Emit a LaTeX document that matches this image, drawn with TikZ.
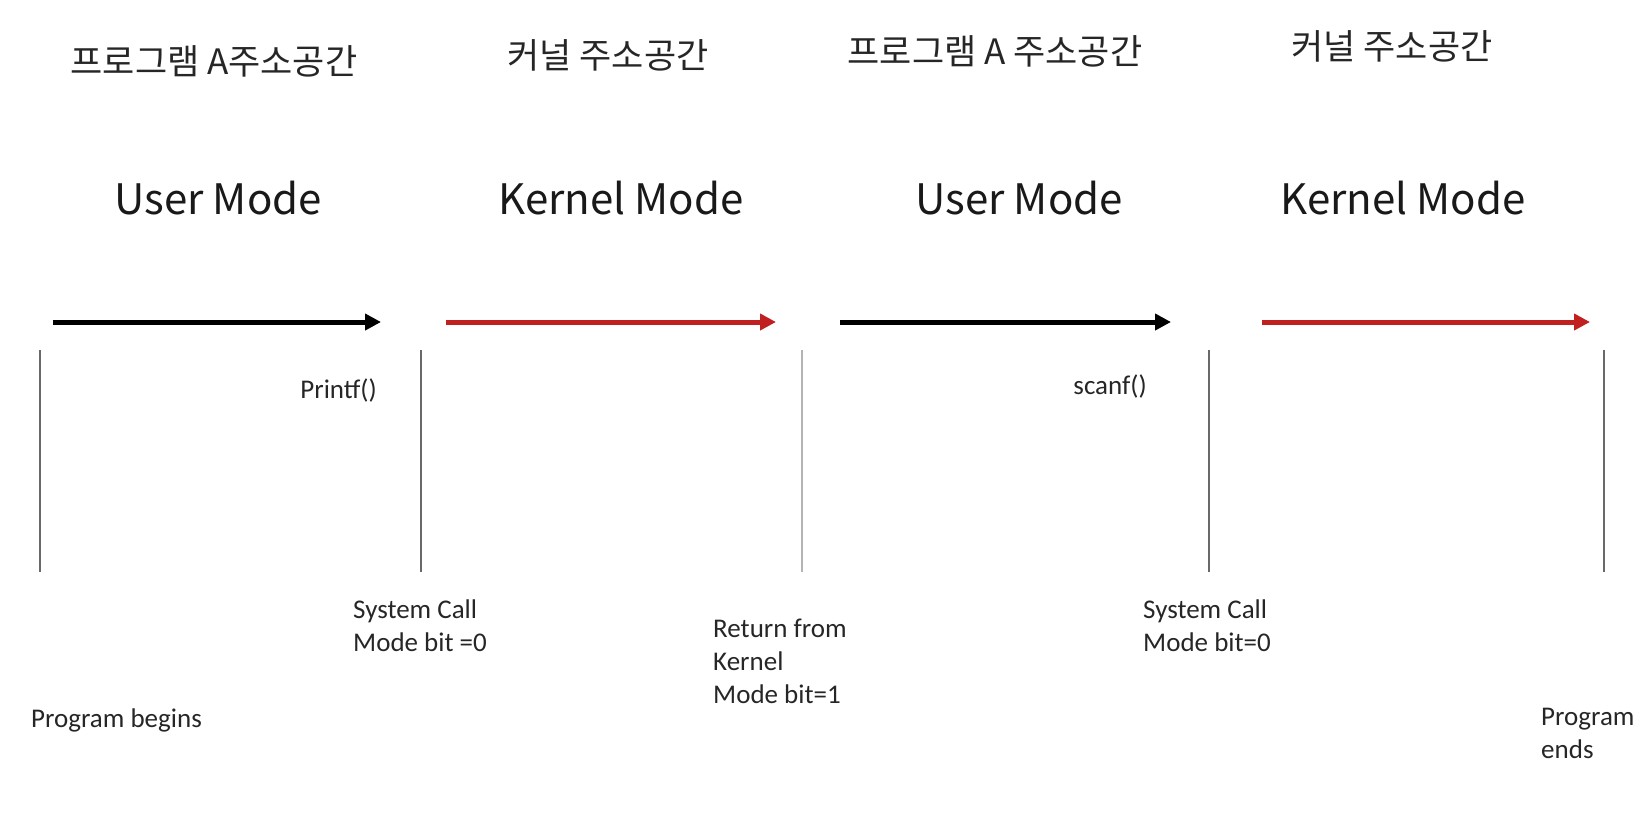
\documentclass[tikz,border=0pt]{standalone}
\usepackage{fontspec}
\setmainfont{Carlito}
\newfontfamily\krfont{Noto Sans CJK KR}
\usetikzlibrary{arrows.meta}
\definecolor{kred}{RGB}{192,32,32}
\definecolor{vgray}{RGB}{105,105,105}
\tikzset{
  title/.style={font=\krfont\fontsize{35}{40}\selectfont, text=black!85, inner sep=0pt},
  modelbl/.style={font=\krfont\fontsize{42}{48}\selectfont, text=black!90, inner sep=0pt},
  small/.style={font=\fontsize{27}{33}\selectfont, text=black!85, inner sep=0pt, align=left, anchor=base west},
  flow/.style={line width=5pt, -{Triangle[length=16pt,width=16pt]}},
  divider/.style={vgray, line width=1.1pt}
}
\begin{document}
\begin{tikzpicture}[x=1pt,y=-1pt]
\useasboundingbox (0,0) rectangle (1651,820);
% titles
\node[title] (t1) at (214,61) {프로그램 A주소공간};
\node[title] (t2) at (608,55) {커널 주소공간};
\node[title] (t3) at (995,51) {프로그램 A 주소공간};
\node[title] (t4) at (1392,46) {커널 주소공간};
% modes
\node[modelbl] (m1) at (218,198) {User Mode};
\node[modelbl] (m2) at (621,198) {Kernel Mode};
\node[modelbl] (m3) at (1019,198) {User Mode};
\node[modelbl] (m4) at (1403,198) {Kernel Mode};
% arrows
\coordinate (a1s) at (53,322); \coordinate (a1e) at (381,322);
\coordinate (a2s) at (446,322); \coordinate (a2e) at (776,322);
\coordinate (a3s) at (840,322); \coordinate (a3e) at (1171,322);
\coordinate (a4s) at (1262,322); \coordinate (a4e) at (1590,322);
\draw[flow, black] (a1s) -- (a1e);
\draw[flow, kred] (a2s) -- (a2e);
\draw[flow, black] (a3s) -- (a3e);
\draw[flow, kred] (a4s) -- (a4e);
% dividers
\coordinate (d1t) at (40,350);   \coordinate (d1b) at (40,572);
\coordinate (d2t) at (421,350);  \coordinate (d2b) at (421,572);
\coordinate (d3t) at (802,350);  \coordinate (d3b) at (802,572);
\coordinate (d4t) at (1209,350); \coordinate (d4b) at (1209,572);
\coordinate (d5t) at (1604,350); \coordinate (d5b) at (1604,572);
\draw[divider] (d1t) -- (d1b);
\draw[divider] (d2t) -- (d2b);
\draw[divider, vgray!50] (d3t) -- (d3b);
\draw[divider] (d4t) -- (d4b);
\draw[divider] (d5t) -- (d5b);
% function labels
\node[small, anchor=base east] (pf) at (377,398) {Printf()};
\node[small, anchor=base east] (sf) at (1147,394) {scanf()};
% event labels (base = baseline of last line)
\node[small] (sc1) at (353,651) {System Call\\Mode bit =0};
\node[small] (ret) at (713,703) {Return from\\Kernel\\Mode bit=1};
\node[small] (sc2) at (1143,651) {System Call\\Mode bit=0};
\node[small] (pb) at (31,727) {Program begins};
\node[small] (pe) at (1541,758) {Program\\ends};
\end{tikzpicture}
\end{document}
